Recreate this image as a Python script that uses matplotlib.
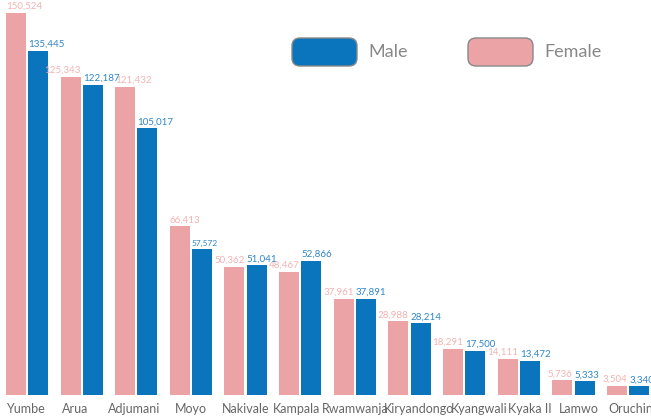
import matplotlib
matplotlib.use("Agg")
import matplotlib.pyplot as plt
import numpy as np
from matplotlib.patches import FancyBboxPatch
from matplotlib.transforms import ScaledTranslation

plt.rcParams["font.family"] = ["Lato", "DejaVu Sans"]

# settlements and refugee counts by sex
districts = ["Yumbe", "Arua", "Adjumani", "Moyo", "Nakivale", "Kampala",
             "Rwamwanja", "Kiryandongo", "Kyangwali", "Kyaka II", "Lamwo", "Oruchinga"]
female = [150524, 125343, 121432, 66413, 50362, 48467,
          37961, 28988, 18291, 14111, 5736, 3504]
male = [135445, 122187, 105017, 57572, 51041, 52866,
        37891, 28214, 17500, 13472, 5333, 3340]

FEMALE_C = "#eba3a6"
MALE_C = "#0a74bd"

fig = plt.figure(figsize=(6.51, 4.17), dpi=100)
ax = fig.add_axes([0, 0.0528, 1, 0.9472])

x = np.arange(len(districts))
w = 0.366
off = w / 2 + 0.02
bf = ax.bar(x - off, female, w, color=FEMALE_C)
bm = ax.bar(x + off, male, w, color=MALE_C)

# female labels: start at bar's left edge, or end at its right edge when they'd hit the male label
for rect, v, m in zip(bf, female, male):
    if v > m + 4000:
        xx, ha = rect.get_x(), "left"
    else:
        xx, ha = rect.get_x() + rect.get_width(), "right"
    ax.annotate(f"{v:,}", (xx, v), xytext=(0, 1.5), textcoords="offset points",
                ha=ha, va="bottom", fontsize=7, color="#f2b3b3", annotation_clip=False)
# male labels start at the bar's left edge
for rect, v in zip(bm, male):
    fs = 6 if v == 57572 else 7
    ax.annotate(f"{v:,}", (rect.get_x(), v), xytext=(0, 1.5), textcoords="offset points",
                ha="left", va="bottom", fontsize=fs, color="#2f86c8", annotation_clip=False)

ax.set_xlim(-0.494, 11.42)
ax.set_ylim(0, 155525)
ax.set_xticks(x)
ax.set_xticklabels(districts, fontsize=9, color="#666666")
ax.tick_params(axis="x", length=0, pad=6)
ax.set_yticks([])
for s in ax.spines.values():
    s.set_visible(False)

# nudge tick labels sideways so neighbours don't collide (pixels)
nudges = [-2, -6, -2.5, 0, 0, -3.5, 0, 10, 15, 11, 5, 9]
for lab, dx in zip(ax.get_xticklabels(), nudges):
    lab.set_transform(lab.get_transform() + ScaledTranslation(dx / 100, 0, fig.dpi_scale_trans))

# legend drawn as rounded swatches
for x0, c, lab in [(2.92, MALE_C, "Male"), (4.68, FEMALE_C, "Female")]:
    fig.patches.append(FancyBboxPatch((x0, 3.51), 0.65, 0.28,
                                      boxstyle="round,pad=0,rounding_size=0.08",
                                      transform=fig.dpi_scale_trans,
                                      facecolor=c, edgecolor="#888888", lw=1))
    fig.text(x0 + 0.76, 3.65, lab, transform=fig.dpi_scale_trans,
             fontsize=13, color="#888888", va="center", ha="left")

fig.savefig("out.png", dpi=100)
